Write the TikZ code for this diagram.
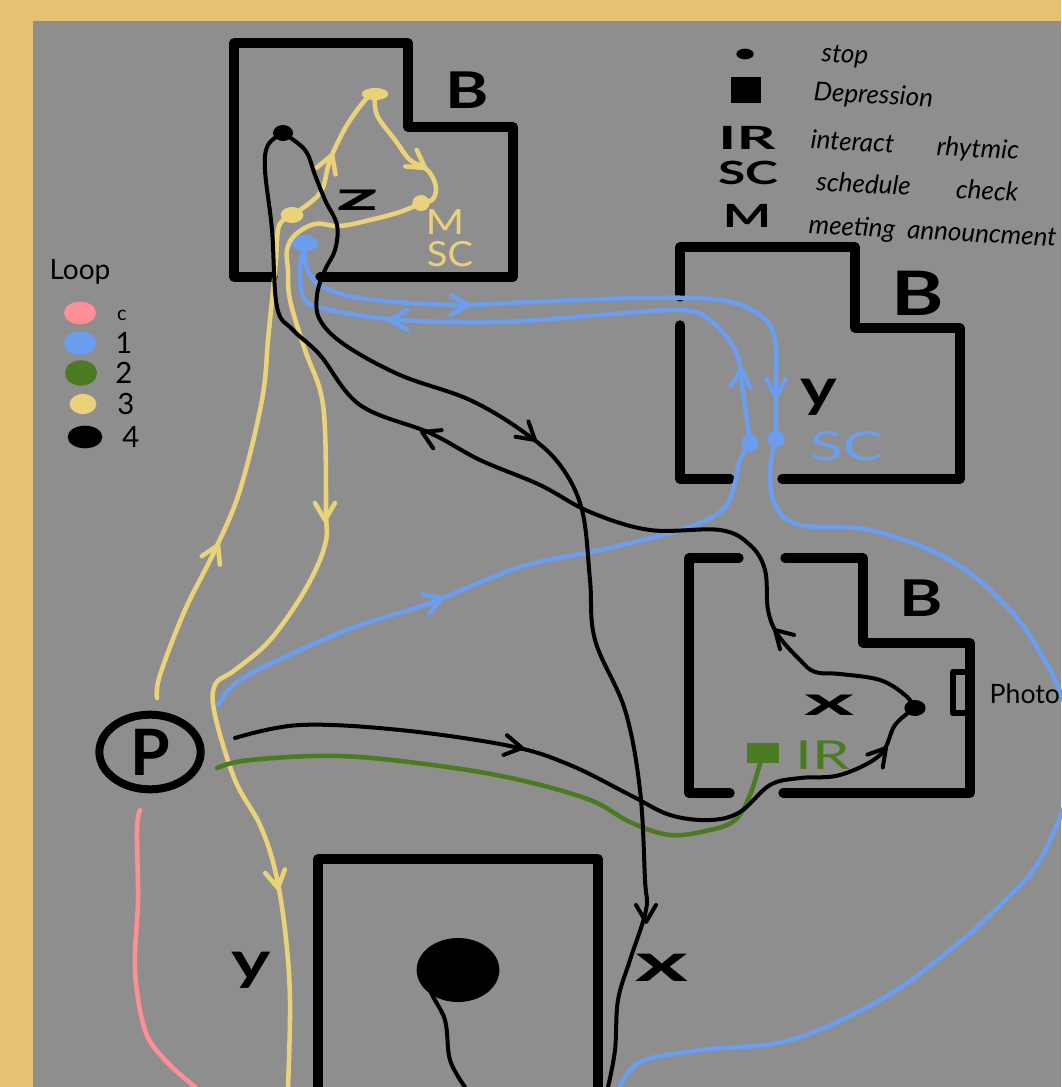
\documentclass[tikz,border=0pt]{standalone}
\usepackage{fontspec}
\setmainfont{Lato}
\usetikzlibrary{shapes.geometric}
\definecolor{frametan}{HTML}{E5C273}
\definecolor{boardgray}{HTML}{8E8E8E}
\definecolor{looppink}{HTML}{FF8F97}
\definecolor{loopblue}{HTML}{6C9EF0}
\definecolor{loopgreen}{HTML}{4A7A22}
\definecolor{loopyellow}{HTML}{EAD27A}

\begin{document}
\begin{tikzpicture}[
  x=0.75pt, y=-0.75pt,
  wall/.style={line width=7pt, line join=round, line cap=round},
  pen/.style={line width=3.4pt, line cap=round, line join=round},
  inkblack/.style={pen, line width=3pt, black},
  inkblue/.style={pen, loopblue},
  inkyellow/.style={pen, loopyellow},
  inkgreen/.style={pen, loopgreen},
  inkpink/.style={pen, looppink},
  blob/.style={ellipse, inner sep=0pt, minimum width=#1},
  dotstop/.style={ellipse, inner sep=0pt, minimum width=17pt, minimum height=12pt},
  roomlabel/.style={font=\fontsize{38}{38}\selectfont\bfseries, xscale=1.3},
  tag/.style={font=\fontsize{30}{30}\selectfont\bfseries},
  bigtag/.style={font=\fontsize{40}{40}\selectfont\bfseries},
  notelabel/.style={font=\fontsize{19.5}{19.5}\selectfont\itshape, anchor=west, rotate=-3},
  keylabel/.style={font=\fontsize{24}{24}\selectfont\bfseries},
  numlabel/.style={font=\fontsize{22}{22}\selectfont},
  barb/.pic={\draw (-17,-10) -- (0,0) -- (-17,10);}
]
\useasboundingbox (0,0) rectangle (1061,1087);
\fill[frametan] (0,0) rectangle (1061,1087);
\fill[boardgray] (33,21) rectangle (1061,1087);

\draw[wall] (273,277) -- (234,277) -- (234,43) -- (408,43) -- (408,127) -- (513,127) -- (513,277) -- (320,277);
\draw[wall] (680,297) -- (680,247) -- (855,247) -- (855,328) -- (960,328) -- (960,479) -- (782,479);
\draw[wall] (730,479) -- (680,479) -- (680,325);
\draw[wall] (739,558) -- (689,558) -- (689,793) -- (730,793);
\draw[wall] (785,558) -- (863,558) -- (863,643) -- (970,643) -- (970,793) -- (783,793);
\draw[wall, line width=5pt] (970,672) -- (953,672) -- (953,713) -- (970,713);
\draw[wall] (318,1087) -- (318,859) -- (598,859) -- (598,1087);

\node[roomlabel] (bz) at (467,90) {B};
\node[roomlabel, font=\fontsize{46}{46}\selectfont\bfseries] (by) at (918,293) {B};
\node[roomlabel] (bx) at (921,598) {B};
\node[tag, xscale=2.3] (zz) at (358,200) {z};
\node[bigtag, xscale=1.3] (yy) at (819,397) {y};
\node[tag, xscale=2.4] (xx) at (830,705) {x};
\node[bigtag, xscale=1.4] (yb) at (251,970) {y};
\node[bigtag, xscale=1.9] (xb) at (662,968) {x};
\node[font=\fontsize{26}{26}\selectfont, loopyellow, xscale=1.2] (mz) at (445,222) {M};
\node[font=\fontsize{26}{26}\selectfont, loopyellow, xscale=1.1] (scz) at (450,254) {SC};
\node[font=\fontsize{30}{30}\selectfont, loopblue, xscale=1.5] (scy) at (847,446) {SC};
\node[font=\fontsize{30}{30}\selectfont, loopgreen, xscale=1.5] (ir) at (823,755) {IR};
\node[font=\fontsize{20}{20}\selectfont, anchor=west] (photo) at (985,694) {Photo};

\node[draw, line width=6pt, ellipse, inner sep=0pt, minimum width=76pt, minimum height=56pt, font=\fontsize{48}{48}\selectfont\bfseries] (P) at (150,752) {P};

\node[dotstop, fill=black, minimum width=62pt, minimum height=48pt] (pit) at (458,970) {};
\node[dotstop, fill=loopyellow] (s1) at (292,215) {};
\node[dotstop, fill=loopyellow, minimum width=20pt, minimum height=9pt] (s2) at (375,94) {};
\node[dotstop, fill=loopyellow, minimum width=13pt, minimum height=12pt] (s3) at (421,203) {};
\node[dotstop, fill=loopblue, minimum width=20pt, minimum height=12pt] (s4) at (305,243) {};
\node[dotstop, fill=loopblue, minimum width=13pt, minimum height=13pt] (s5) at (776,439) {};
\node[dotstop, fill=loopblue, minimum width=13pt, minimum height=13pt] (s6) at (750,443) {};
\node[dotstop, fill=black, minimum width=15pt, minimum height=12pt] (s7) at (283,133) {};
\node[dotstop, fill=black, minimum width=16pt, minimum height=12pt] (s8) at (915,708) {};
\node[fill=loopgreen, inner sep=0pt, minimum width=24pt, minimum height=15pt] (dep) at (763,753) {};

\draw[inkpink] plot[smooth, tension=.6] coordinates {(140,810) (137,830) (138,900) (135,970) (145,1030) (165,1060) (195,1087)};

\draw[inkyellow] plot[smooth, tension=.6] coordinates {(157,698) (160,675) (185,610) (215,550) (240,490) (262,400) (268,340) (272,300) (276,260) (279,226) (s1.center)};
\draw[inkyellow] plot[smooth, tension=.6] coordinates {(s1.center) (320,193) (330,160) (347,125) (367,98) (s2.center)};
\draw[inkyellow] plot[smooth, tension=.6] coordinates {(s2.center) (377,115) (395,140) (410,160) (425,168) (433,178) (436,190) (432,200) (s3.center)};
\draw[inkyellow] plot[smooth, tension=.6] coordinates {(s3.center) (400,212) (370,220) (340,226) (315,224) (295,235) (287,250) (288,270) (290,300) (305,350) (320,390) (325,430) (326,510) (325,545) (305,590) (270,640) (235,670) (215,685) (215,715) (235,780) (260,825) (275,870) (285,930) (290,1000) (288,1087)};
\pic[inkyellow, rotate=65] at (218,545) {barb};
\pic[inkyellow, rotate=70] at (332,155) {barb};
\pic[inkyellow, rotate=-35] at (425,168) {barb};
\pic[inkyellow, rotate=-90] at (325,520) {barb};
\pic[inkyellow, rotate=-80] at (278,888) {barb};

\draw[inkblue] plot[smooth, tension=.6] coordinates {(s4.center) (306,265) (320,285) (360,298) (450,305) (530,302) (640,298) (720,300) (760,315) (775,340) (776,385) (s5.center)};
\draw[inkblue] plot[smooth, tension=.6] coordinates {(s5.center) (770,470) (775,505) (800,525) (870,530) (950,560) (1010,610) (1050,670) (1075,730)};
\draw[inkblue] plot[smooth, tension=.6] coordinates {(1075,780) (1040,860) (1000,905) (950,950) (880,1000) (790,1040) (700,1050) (640,1062) (620,1087)};
\draw[inkblue] plot[smooth, tension=.6] coordinates {(s6.center) (742,385) (735,350) (710,320) (680,310) (600,315) (500,322) (400,320) (330,310) (305,300) (300,270) (s4.center)};
\draw[inkblue] plot[smooth, tension=.6] coordinates {(218,705) (240,680) (300,650) (360,625) (430,603) (520,567) (600,550) (680,530) (720,512) (733,490) (740,460) (s6.center)};
\pic[inkblue] at (468,305) {barb};
\pic[inkblue, rotate=180] at (390,320) {barb};
\pic[inkblue, rotate=-90] at (776,396) {barb};
\pic[inkblue, rotate=85] at (742,370) {barb};
\pic[inkblue, rotate=20] at (442,598) {barb};

\draw[inkgreen] plot[smooth, tension=.6] coordinates {(217,768) (250,760) (340,756) (440,766) (520,780) (590,800) (630,822) (670,835) (710,830) (735,820) (750,795) (dep.center)};

\draw[inkblack] plot[smooth, tension=.6] coordinates {(235,738) (300,725) (400,730) (510,746) (570,765) (630,795) (670,815) (710,820) (740,812) (770,785) (800,778) (840,775) (880,755) (895,725) (s8.center)};
\draw[inkblack] plot[smooth, tension=.6] coordinates {(s8.center) (905,695) (880,680) (840,674) (815,672) (800,660) (778,635) (768,610) (765,570) (750,545) (720,530) (650,530) (590,512) (540,485) (480,460) (430,433) (360,405) (320,355) (293,330) (277,307) (272,230) (265,170) (268,145) (s7.center)};
\draw[inkblack] plot[smooth, tension=.6] coordinates {(s7.center) (305,150) (315,175) (325,200) (337,225) (335,250) (325,270) (317,295) (320,320) (345,345) (400,375) (470,400) (525,433) (560,465) (582,510) (590,580) (595,640) (625,710) (640,790) (645,880) (646,910) (630,960) (618,1000) (615,1050) (608,1087)};
\draw[inkblack] plot[smooth, tension=.6] coordinates {(pit.center) (430,985) (445,1020) (450,1060) (465,1087)};
\pic[inkblack, rotate=-10] at (522,748) {barb};
\pic[inkblack, rotate=50] at (886,748) {barb};
\pic[inkblack, rotate=135] at (775,630) {barb};
\pic[inkblack, rotate=155] at (422,432) {barb};
\pic[inkblack, rotate=-40] at (535,440) {barb};
\pic[inkblack, rotate=-90] at (646,922) {barb};

\node[font=\fontsize{21}{21}\selectfont] (looptitle) at (80,272) {Loop};
\node[blob=24pt, minimum height=17pt, fill=looppink] (k0) at (80,313) {};
\node[blob=24pt, minimum height=18pt, fill=loopblue] (k1) at (80,343) {};
\node[blob=24pt, minimum height=19pt, fill=loopgreen] (k2) at (81,373) {};
\node[blob=20pt, minimum height=15pt, fill=loopyellow] (k3) at (83,404) {};
\node[blob=26pt, minimum height=17pt, fill=black] (k4) at (85,437) {};
\node[font=\fontsize{15}{15}\selectfont] (n0) at (122,315) {c};
\node[numlabel] (n1) at (124,343) {1};
\node[numlabel] (n2) at (124,373) {2};
\node[numlabel] (n3) at (126,404) {3};
\node[numlabel] (n4) at (131,437) {4};

\node[dotstop, fill=black, minimum width=13pt, minimum height=8pt] (keystop) at (745,54) {};
\node[fill=black, inner sep=0pt, minimum width=22pt, minimum height=19pt] (keydep) at (746,90) {};
\node[keylabel, xscale=1.9] (keyir) at (747,138) {IR};
\node[keylabel, xscale=1.55] (keysc) at (748,173) {SC};
\node[keylabel, xscale=1.6] (keym) at (747,216) {M};
\node[notelabel] (t1) at (817,55) {stop};
\node[notelabel] (t2) at (809,93) {Depression};
\node[notelabel] (t3) at (806,141) {interact\hspace{32pt}rhytmic};
\node[notelabel] (t4) at (812,181) {schedule\hspace{34pt}check};
\node[notelabel] (t5) at (804,226) {meeting\ \ announcment};
\end{tikzpicture}
\end{document}
